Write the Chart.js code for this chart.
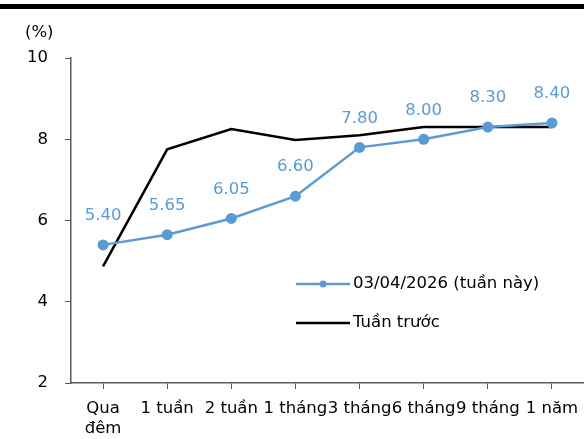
<!DOCTYPE html>
<html lang="vi">
<head>
<meta charset="UTF-8">
<title>Lãi suất liên ngân hàng</title>
<script src="https://cdn.jsdelivr.net/npm/chart.js@4.4.0/dist/chart.umd.js"></script>
<style>
    html, body { margin: 0; padding: 0; background: #fff; }
    #wrap { position: relative; width: 584px; height: 439px; overflow: hidden; }
    #topline { position: absolute; left: 0; top: 4px; width: 584px; height: 5px; background: #000; }
    canvas { position: absolute; left: 0; top: 0; }
</style>
</head>
<body>
<div id="wrap">
    <div id="topline"></div>
    <canvas id="rateChart" width="584" height="439"></canvas>
</div>
<script>
    // data
    const categories = [['Qua', 'đêm'], '1 tuần', '2 tuần', '1 tháng', '3 tháng', '6 tháng', '9 tháng', '1 năm'];
    const thisWeek = [5.40, 5.65, 6.05, 6.60, 7.80, 8.00, 8.30, 8.40];
    const lastWeek = [4.87, 7.75, 8.25, 7.98, 8.10, 8.30, 8.30, 8.30];
    const seriesNames = ['03/04/2026 (tuần này)', 'Tuần trước'];
    const yMin = 2, yMax = 10, yStep = 2;

    const FONT = '"DejaVu Sans", sans-serif';
    const FSIZE = 16.5;
    const BLUE = '#5b9bd5';

    // value labels above the blue points
    const valueLabels = {
        id: 'valueLabels',
        afterDatasetsDraw(chart) {
            const ctx = chart.ctx;
            const meta = chart.getDatasetMeta(0);
            ctx.save();
            ctx.font = FSIZE + 'px ' + FONT;
            ctx.fillStyle = BLUE;
            ctx.textAlign = 'center';
            ctx.textBaseline = 'middle';
            meta.data.forEach(function(pt, i) {
                ctx.fillText(thisWeek[i].toFixed(2), pt.x, pt.y - 29);
            });
            ctx.restore();
        }
    };

    // "(%)" unit and legend inside the plot
    const extras = {
        id: 'extras',
        afterDraw(chart) {
            const ctx = chart.ctx;
            const area = chart.chartArea;
            ctx.save();
            ctx.font = FSIZE + 'px ' + FONT;
            ctx.fillStyle = '#000';
            ctx.textBaseline = 'middle';
            ctx.textAlign = 'left';
            ctx.fillText('(%)', 25, 33);

            const lx = area.left + 225;
            const rows = [area.top + 226, area.top + 265];
            chart.data.datasets.forEach(function(ds, i) {
                const y = rows[i];
                ctx.strokeStyle = ds.borderColor;
                ctx.lineWidth = 2.5;
                ctx.beginPath();
                ctx.moveTo(lx, y);
                ctx.lineTo(lx + 54, y);
                ctx.stroke();
                if (ds.pointRadius > 0) {
                    ctx.fillStyle = ds.borderColor;
                    ctx.beginPath();
                    ctx.arc(lx + 27, y, 3.5, 0, Math.PI * 2);
                    ctx.fill();
                }
                ctx.fillStyle = '#000';
                ctx.fillText(ds.label, lx + 57, y);
            });
            ctx.restore();
        }
    };

    const ctx = document.getElementById('rateChart').getContext('2d');
    const chart = new Chart(ctx, {
        type: 'line',
        data: {
            labels: categories,
            datasets: [{
                label: seriesNames[0],
                data: thisWeek,
                borderColor: BLUE,
                backgroundColor: BLUE,
                borderWidth: 2.5,
                pointRadius: 5.5,
                pointHoverRadius: 5.5,
                pointBackgroundColor: BLUE,
                pointBorderWidth: 0,
                tension: 0,
                order: 0
            }, {
                label: seriesNames[1],
                data: lastWeek,
                borderColor: '#000',
                backgroundColor: '#000',
                borderWidth: 2.5,
                pointRadius: 0,
                tension: 0,
                order: 1
            }]
        },
        options: {
            responsive: false,
            animation: false,
            layout: { autoPadding: false, padding: { top: 58, right: 0, left: 0, bottom: 0 } },
            plugins: {
                legend: { display: false },
                tooltip: { enabled: false }
            },
            scales: {
                x: {
                    offset: true,
                    grid: { offset: false, drawOnChartArea: false, drawTicks: true, tickLength: 6, color: '#595959' },
                    border: { color: '#595959', width: 1.5 },
                    ticks: {
                        autoSkip: false, maxRotation: 0, minRotation: 0,
                        color: '#000', font: { family: FONT, size: FSIZE }, padding: 10
                    },
                    afterFit(scale) {
                        scale.height = 56;
                        scale.paddingLeft = 0;
                        scale.paddingRight = 0;
                    }
                },
                y: {
                    min: yMin, max: yMax,
                    grid: { drawOnChartArea: false, drawTicks: true, tickLength: 6, color: '#595959' },
                    border: { color: '#595959', width: 1.5 },
                    ticks: { stepSize: yStep, color: '#000', font: { family: FONT, size: FSIZE }, padding: 17 },
                    afterFit(scale) { scale.width = 71; }
                }
            }
        },
        plugins: [valueLabels, extras]
    });
</script>
</body>
</html>
